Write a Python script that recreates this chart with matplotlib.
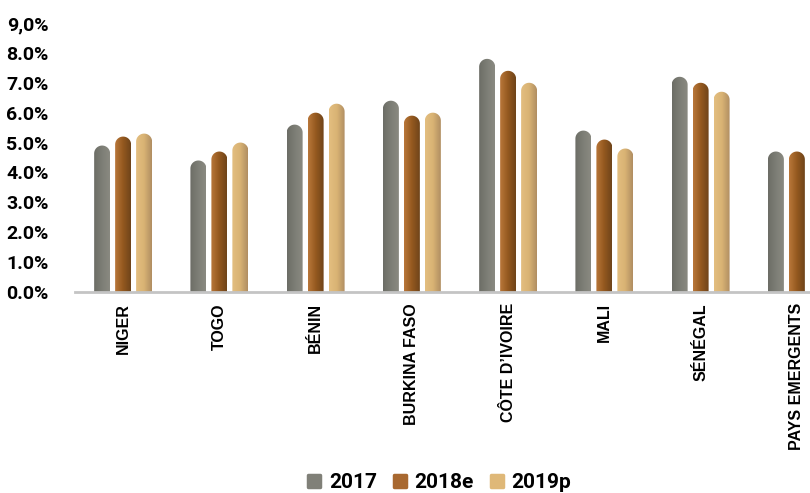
import matplotlib
matplotlib.use('Agg')
import matplotlib.pyplot as plt
import numpy as np
from matplotlib.path import Path
from matplotlib.patches import PathPatch
from matplotlib.colors import LinearSegmentedColormap
from matplotlib.lines import Line2D
from matplotlib.markers import MarkerStyle

# Data.
countries = ['NIGER', 'TOGO', 'BÉNIN', 'BURKINA FASO', 'CÔTE D\u2019IVOIRE',
             'MALI', 'SÉNÉGAL', 'PAYS EMERGENTS']
series = ['2017', '2018e', '2019p']
v2017 = [4.9, 4.4, 5.6, 6.4, 7.8, 5.4, 7.2, 4.7]
v2018 = [5.2, 4.7, 6.0, 5.9, 7.4, 5.1, 7.0, 4.7]
v2019 = [5.3, 5.0, 6.3, 6.0, 7.0, 4.8, 6.7, 4.7]
ytick_labels = ['0.0%', '1.0%', '2.0%', '3.0%', '4.0%', '5.0%',
                '6.0%', '7.0%', '8.0%', '9,0%']

# Gradient (left -> right) per series, plus a flat colour for the legend.
gradients = [['#6c6d66', '#7d7e76', '#8a8a81'],
             ['#b9773a', '#94591f', '#6f441a'],
             ['#e3be80', '#d9b374', '#b08e62']]
legend_colors = ['#808078', '#a86830', '#dfb878']

fig = plt.figure(figsize=(8.1, 4.93), dpi=100)
ax = fig.add_axes([75 / 810, 201 / 493, 770 / 810, 269 / 493])
ax.set_xlim(-0.5, 7.5)
ax.set_ylim(0, 9)

x = np.arange(len(countries))
width = 0.166
step = 0.218
values = [v2017, v2018, v2019]

bar_groups = []
for i, vals in enumerate(values):
    bars = ax.bar(x + (i - 1) * step, vals, width, color='none', edgecolor='none')
    bar_groups.append(bars)

# Pixel size of one data unit, to draw round caps as half circles.
px_x = ax.transData.transform((1, 0))[0] - ax.transData.transform((0, 0))[0]
px_y = ax.transData.transform((0, 1))[1] - ax.transData.transform((0, 0))[1]

for i, bars in enumerate(bar_groups):
    cmap = LinearSegmentedColormap.from_list('g%d' % i, gradients[i])
    grad = np.linspace(0, 1, 64).reshape(1, -1)
    for rect in bars:
        x0 = rect.get_x()
        w = rect.get_width()
        h = rect.get_height()
        rx = w / 2
        ry = rx * px_x / px_y
        t = np.linspace(np.pi, 0, 30)
        cx = x0 + rx
        verts = [(x0, 0), (x0, h - ry)]
        verts += list(zip(cx + rx * np.cos(t), h - ry + ry * np.sin(t)))
        verts += [(x0 + w, 0), (x0, 0)]
        codes = [Path.MOVETO] + [Path.LINETO] * (len(verts) - 2) + [Path.CLOSEPOLY]
        patch = PathPatch(Path(verts, codes), facecolor='none', edgecolor='none')
        ax.add_patch(patch)
        im = ax.imshow(grad, cmap=cmap, aspect='auto', extent=[x0, x0 + w, 0, h],
                       interpolation='bilinear', zorder=2)
        im.set_clip_path(patch)

ax.set_xlim(-0.5, 7.5)
ax.set_ylim(0, 9)

for side in ['top', 'right', 'left']:
    ax.spines[side].set_visible(False)
ax.spines['bottom'].set_color('#c4c4c4')
ax.spines['bottom'].set_linewidth(2)
ax.spines['bottom'].set_zorder(3)

ax.set_yticks(range(10))
ax.set_yticklabels(ytick_labels, fontfamily='Roboto', fontweight='bold', fontsize=14)
ax.set_xticks(x)
ax.set_xticklabels(countries, rotation=90, fontfamily='Liberation Sans',
                   fontweight='bold', fontsize=11.5, va='top')
ax.tick_params(axis='y', length=0, pad=19)
ax.tick_params(axis='x', length=0, pad=8)

marker = MarkerStyle('s', joinstyle='round')
handles = [Line2D([], [], marker=marker, linestyle='none', markersize=8,
                  markerfacecolor=c, markeredgecolor=c, markeredgewidth=2.5)
           for c in legend_colors]
fig.legend(handles, series, loc='center', bbox_to_anchor=(438 / 810, 1 - 483 / 493),
           ncol=3, frameon=False, handletextpad=0.25, columnspacing=0.65,
           handlelength=0.9, prop={'family': 'Roboto', 'weight': 'bold', 'size': 15})

fig.savefig('out.png', dpi=100)
